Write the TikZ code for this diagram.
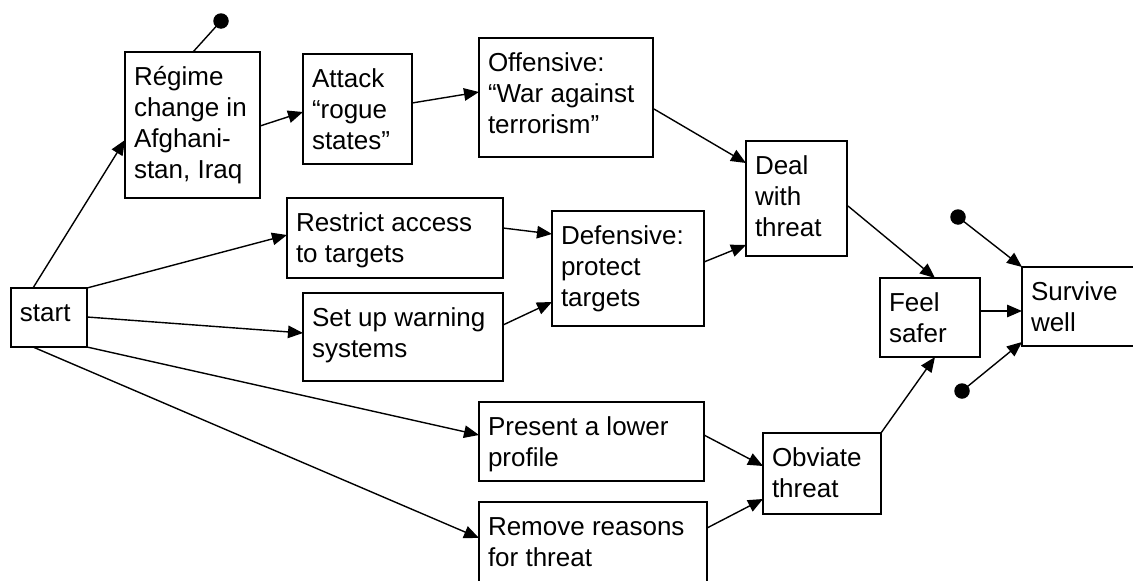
\documentclass[tikz,border=0pt]{standalone}
\usepackage{fontspec}
\setmainfont{Liberation Sans}
\usetikzlibrary{arrows.meta,calc}
\newcommand\bxt[3]{\parbox[c][#2pt][t]{#1pt}{\raggedright\leftskip=9pt\rule{0pt}{33pt}#3}}
\tikzset{
  bx/.style={draw, line width=1.9pt, inner sep=0pt, outer sep=0pt, anchor=north west,
             font=\fontsize{26}{31}\selectfont},
  con/.style={line width=1.4pt, -{Triangle[length=15pt,width=12.5pt]}},
  dotnode/.style={circle, fill, inner sep=0pt, minimum size=15.5pt},
}
\begin{document}
\begin{tikzpicture}[x=1pt,y=-1pt]
\useasboundingbox (0,0) rectangle (1133,581);
\clip (0,0) rectangle (1133,581);
% boxes
\node[bx] (start)     at (11,288)  {\bxt{76}{59}{start}};
\node[bx] (regime)    at (125,52)  {\bxt{135}{146}{Régime\\change in\\Afghani-\\stan, Iraq}};
\node[bx] (attack)    at (303,54)  {\bxt{109}{110}{Attack\\“rogue\\states”}};
\node[bx] (offensive) at (479,38)  {\bxt{174}{119}{Offensive:\\“War against\\terrorism”}};
\node[bx] (restrict)  at (287,198) {\bxt{216}{80}{Restrict access\\to targets}};
\node[bx] (setup)     at (303,293) {\bxt{200}{88}{Set up warning\\systems}};
\node[bx] (defensive) at (552,211) {\bxt{152}{115}{Defensive:\\protect\\targets}};
\node[bx] (deal)      at (746,141) {\bxt{101}{115}{Deal\\with\\threat}};
\node[bx] (present)   at (479,402) {\bxt{225}{79}{Present a lower\\profile}};
\node[bx] (remove)    at (479,502) {\bxt{228}{100}{Remove reasons\\for threat}};
\node[bx] (obviate)   at (763,433) {\bxt{118}{81}{Obviate\\threat}};
\node[bx] (feel)      at (880,278) {\bxt{100}{79}{Feel\\safer}};
\node[bx] (survive)   at (1022,267){\bxt{130}{79}{Survive\\well}};
% dots
\node[dotnode] (d0) at (221,21) {};
\node[dotnode] (d1) at (958,217) {};
\node[dotnode] (d2) at (962,391) {};
% connectors
\draw[con] ($(start.north west)+(22,0)$) -- ($(regime.north west)+(0,88)$);
\draw[con] (start.north east) -- ($(restrict.north west)+(0,37)$);
\draw[con] ($(start.north east)+(0,29)$) -- ($(setup.north west)+(0,40)$);
\draw[con] (start.south east) -- ($(present.north west)+(0,33)$);
\draw[con] ($(start.south west)+(22,0)$) -- ($(remove.north west)+(0,36)$);
\draw[con] ($(regime.north east)+(0,74)$) -- ($(attack.north west)+(0,58)$);
\draw[con] ($(attack.north east)+(0,49)$) -- ($(offensive.north west)+(0,54)$);
\draw[con] ($(offensive.north east)+(1,71)$) -- ($(deal.north west)+(0,22)$);
\draw[con] ($(restrict.north east)+(0,30)$) -- ($(defensive.north west)+(0,23)$);
\draw[con] ($(setup.north east)+(0,32)$) -- ($(defensive.north west)+(0,91)$);
\draw[con] ($(defensive.north east)+(0,51)$) -- ($(deal.north west)+(0,104)$);
\draw[con] ($(deal.north east)+(1,65)$) -- ($(feel.north west)+(55,0)$);
\draw[con] ($(present.north east)+(0,33)$) -- ($(obviate.north west)+(0,33)$);
\draw[con] ($(remove.north east)+(0,26)$) -- ($(obviate.north west)+(0,66)$);
\draw[con] (obviate.north east) -- ($(feel.south west)+(55,0)$);
\draw[con] ($(feel.north east)+(0,33)$) -- ($(survive.north west)+(0,44)$);
\draw[con] (d1.center) -- (survive.north west);
\draw[con] (d2.center) -- ($(survive.south west)+(0,-4)$);
\draw[line width=1.4pt] ($(regime.north west)+(68,0)$) -- (d0.center);
\end{tikzpicture}
\end{document}
